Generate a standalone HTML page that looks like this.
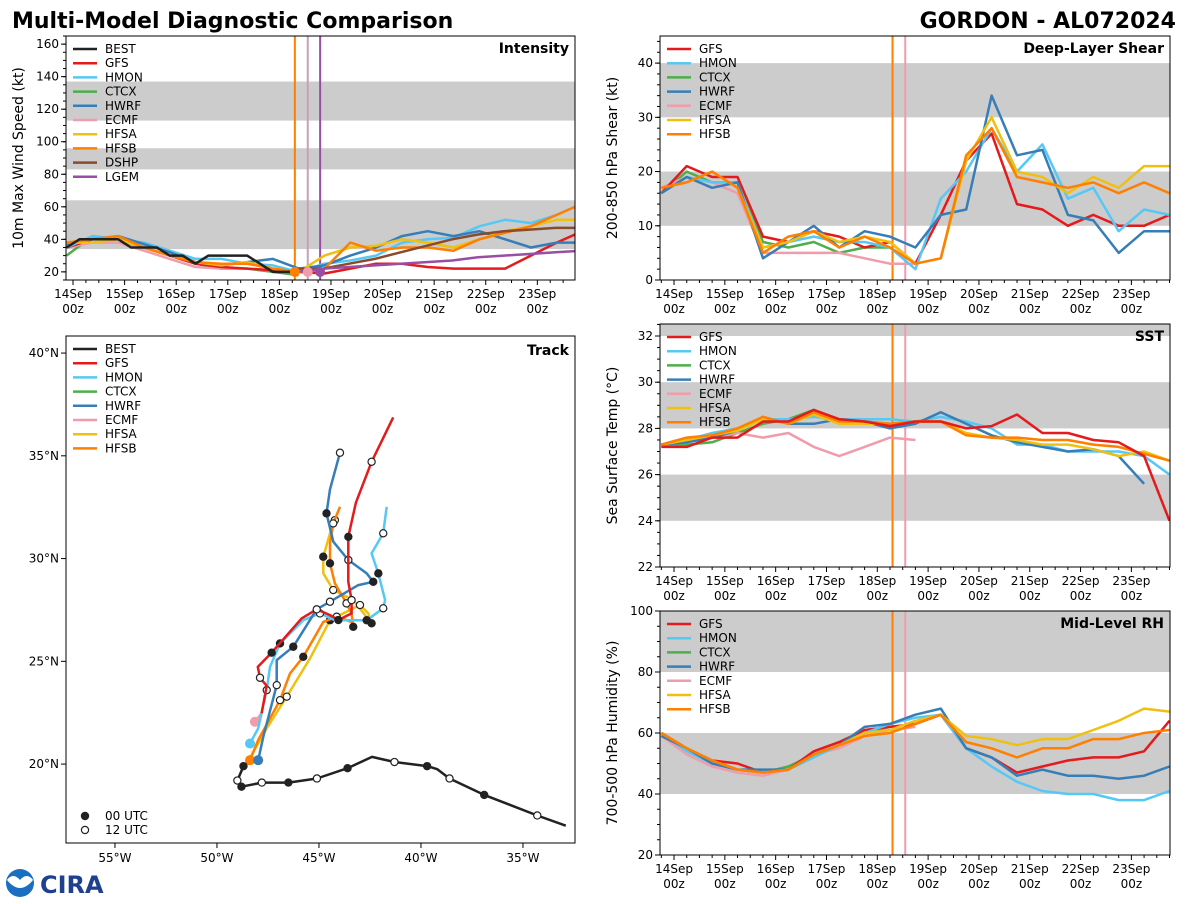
<!DOCTYPE html>
<html><head><meta charset="utf-8"><style>
body{margin:0;background:#fff;width:1200px;height:900px;overflow:hidden;font-family:"DejaVu Sans",sans-serif}
svg text{font-family:"DejaVu Sans","Liberation Sans",sans-serif}
</style></head><body>
<svg id="c" width="1200" height="900" xmlns="http://www.w3.org/2000/svg">
<text x="12" y="28" font-size="22" font-weight="bold">Multi-Model Diagnostic Comparison</text>
<text x="1176" y="28" font-size="22" font-weight="bold" text-anchor="end">GORDON - AL072024</text>
<g>
<circle cx="20" cy="883" r="14" fill="#1a6fc0"/><path d="M7,880 Q20,896 33,880 Q27,872 20,880 Q13,872 7,880Z" fill="#fff"/>
<text x="40" y="893" font-size="24" font-weight="bold" fill="#1f3f8f">CIRA</text>
</g>
</svg>
<script>
const days=['14Sep','15Sep','16Sep','17Sep','18Sep','19Sep','20Sep','21Sep','22Sep','23Sep'];
// Intensity (kt); BEST 6h steps from t=-0.125 d, models 12h steps
const intBEST=[35,40,40,40,40,35,35,35,30,30,25,30,30,30,30,25,20,20,20];
const intGFS=[35,40,40,35,30,25,23,22,21,20,19,22,25,25,23,22,22,22,30,38,45,50];
const intHMON=[35,42,40,38,33,28,28,25,24,20,25,27,30,38,40,41,48,52,50,55,62];
const intCTCX=[30,42,40,35,30,25,22,22,20,18];
const intHWRF=[37,40,42,37,32,26,24,26,28,22,24,30,35,42,45,42,45,40,35,38,38];
const intECMF=[35,38,38,33,28,23,22,22,21,20,20];
const intHFSA=[38,38,40,35,30,26,24,26,22,20,30,35,36,40,38,35,40,45,48,52,52];
const intHFSB=[38,40,42,35,30,26,25,25,22,20,22,38,33,35,35,33,40,44,48,55,62];
const intDSHP=[22,22,25,28,32,36,40,43,45,46,47,47,48];
const intLGEM=[20,22,23,24,25,26,27,29,30,31,32,33,34];
// Shear (kt), 12h from t=-0.25
const shrGFS=[16,21,19,19,8,7,9,8,6,7,3,12,22,27,14,13,10,12,10,10,12];
const shrHMON=[16,19,18,18,6,7,8,7,7,6,2,15,20,28,20,25,15,17,9,13,12];
const shrCTCX=[16,20,18,18,7,6,7,5,6,6];
const shrHWRF=[16,19,17,18,4,7,10,6,9,8,6,12,13,34,23,24,12,11,5,9,9];
const shrECMF=[17,19,18,16,5,5,5,5,4,3,3];
const shrHFSA=[17,18,20,17,6,7,9,7,8,7,3,4,22,30,20,19,16,19,17,21,21];
const shrHFSB=[17,18,20,17,5,8,9,6,8,6,3,4,23,28,19,18,17,18,16,18,16];
// SST (C)
const sstGFS=[27.2,27.2,27.6,27.6,28.3,28.3,28.8,28.4,28.3,28.1,28.3,28.3,28.0,28.1,28.6,27.8,27.8,27.5,27.4,26.8,24.0];
const sstHMON=[27.3,27.5,27.8,28.0,28.4,28.4,28.5,28.4,28.4,28.4,28.3,28.5,28.3,28.0,27.3,27.3,27.0,27.0,27.0,26.8,26.0];
const sstCTCX=[27.3,27.3,27.4,27.8,28.2,28.4,28.8,28.3,28.3,28.2];
const sstHWRF=[27.3,27.4,27.6,27.9,28.5,28.2,28.2,28.4,28.3,28.0,28.2,28.7,28.2,27.7,27.4,27.2,27.0,27.1,26.8,25.6];
const sstECMF=[27.3,27.4,27.6,27.8,27.6,27.8,27.2,26.8,27.2,27.6,27.5];
const sstHFSA=[27.3,27.5,27.7,27.9,28.4,28.2,28.6,28.2,28.2,28.2,28.3,28.3,27.8,27.6,27.5,27.3,27.3,27.1,26.8,27.0,26.6];
const sstHFSB=[27.3,27.6,27.7,28.0,28.5,28.2,28.7,28.3,28.3,28.2,28.3,28.3,27.7,27.6,27.6,27.5,27.5,27.3,27.2,26.9,26.6];
// RH (%)
const rhGFS=[60,55,51,50,47,48,54,57,61,62,63,66,55,52,47,49,51,52,52,54,64];
const rhHMON=[60,54,50,48,47,48,52,56,60,63,65,66,55,49,44,41,40,40,38,38,41];
const rhCTCX=[60,55,51,48,47,49,53,56,60,62];
const rhHWRF=[59,55,50,48,48,48,53,56,62,63,66,68,55,52,46,48,46,46,45,46,49];
const rhECMF=[59,53,49,47,46,48,53,55,59,61,62];
const rhHFSA=[60,55,51,48,47,48,53,56,60,61,64,66,59,58,56,58,58,61,64,68,67];
const rhHFSB=[60,55,51,48,47,48,53,56,59,60,63,66,57,55,52,55,55,58,58,60,61];
// Track lon/lat
const trkBESTlon=[-48.7,-49.0,-48.8,-47.8,-46.5,-45.1,-43.6,-42.4,-41.3,-39.7,-39.2,-38.6,-36.9,-34.3,-32.9];
const trkBESTlat=[19.9,19.2,18.9,19.1,19.1,19.3,19.8,20.35,20.1,19.9,19.75,19.3,18.5,17.5,17.0];
const trkBESTmk=['c','o','c','o','c','o','c','','o','c','','o','c','o',''];
const trkGFSlon=[-47.81,-47.56,-47.89,-48.0,-47.32,-45.85,-45.11,-44.46,-44.05,-43.4,-43.4,-43.56,-43.56,-43.19,-42.42,-41.36];
const trkGFSlat=[22.47,23.81,24.2,24.73,25.42,27.09,27.53,27.25,27.01,27.33,27.98,28.87,31.06,32.72,34.71,36.87];
const trkHMONlon=[-48.38,-47.98,-47.56,-47.4,-46.91,-45.77,-44.95,-44.22,-42.66,-42.42,-41.85,-41.76,-42.09,-42.42,-41.85,-41.68];
const trkHMONlat=[21.0,21.74,23.6,24.73,25.87,27.0,27.33,27.0,27.0,27.17,27.58,27.98,29.28,30.25,31.23,32.52];
const trkHWRFlon=[-47.98,-47.73,-47.07,-47.07,-46.26,-45.11,-44.46,-43.07,-42.34,-42.66,-43.56,-44.3,-44.63,-44.46,-43.97];
const trkHWRFlat=[20.19,21.33,23.84,25.06,25.71,27.53,27.9,28.71,28.87,29.28,29.93,30.82,32.2,33.37,35.15];
const trkECMFlon=[-48.14,-47.81];
const trkECMFlat=[22.06,22.47];
const trkHFSAlon=[-48.54,-47.56,-46.58,-45.44,-44.46,-43.81,-42.99,-42.58,-42.42,-43.32,-44.3,-44.79,-44.79,-44.46,-44.22];
const trkHFSAlat=[20.03,21.74,23.28,25.14,27.0,27.33,27.74,27.33,26.85,27.98,28.47,29.28,30.09,31.23,31.87];
const trkHFSBlon=[-48.38,-47.98,-46.91,-46.42,-45.77,-44.79,-44.13,-43.4,-43.32,-43.4,-43.65,-44.22,-44.46,-44.46,-44.3,-43.97];
const trkHFSBlat=[20.19,21.17,23.11,24.41,25.22,26.92,27.17,26.92,26.68,27.33,27.82,28.79,29.77,30.74,31.71,32.52];
const initTimes=[4.3,4.55,4.79];

const C={BEST:'#222',GFS:'#e41a1c',HMON:'#56c8f5',CTCX:'#4daf4a',HWRF:'#377eb8',ECMF:'#f19cab',HFSA:'#f0c010',HFSB:'#ff7f00',DSHP:'#8b4a2b',LGEM:'#984ea3'};
const svg=document.getElementById('c');
const NS='http://www.w3.org/2000/svg';
function mk(tag,at,p){const e=document.createElementNS(NS,tag);for(const k in at)e.setAttribute(k,at[k]);(p||svg).appendChild(e);return e;}
let clipN=0;
function panel(cfg){
  const g=mk('g',{});
  
  
  const sx=t=>cfg.x0+(t-cfg.tmin)/(cfg.tmax-cfg.tmin)*(cfg.x1-cfg.x0);
  const sy=v=>cfg.y1-(v-cfg.ymin)/(cfg.ymax-cfg.ymin)*(cfg.y1-cfg.y0);
  const id='cl'+(clipN++);
  const cp=mk('clipPath',{id:id},g);mk('rect',{x:cfg.x0,y:cfg.y0,width:cfg.x1-cfg.x0,height:cfg.y1-cfg.y0},cp);
  cfg.bands.forEach(b=>{const top=sy(Math.min(b[1],cfg.ymax));const r=mk('rect',{x:cfg.x0,y:top,width:cfg.x1-cfg.x0,height:sy(b[0])-top,fill:'#cccccc'},g);
    
    });
  for(let d=0;d<days.length;d++){const x=sx(d);if(x<cfg.x0||x>cfg.x1)continue;
    mk('line',{x1:x,x2:x,y1:cfg.y1,y2:cfg.y1+5,stroke:'#000'},g);
    const t=mk('text',{x:x,y:cfg.y1+18,'font-size':12,'text-anchor':'middle'},g);t.textContent=days[d];
    
    
    const t2=mk('text',{x:x,y:cfg.y1+33,'font-size':12,'text-anchor':'middle'},g);t2.textContent='00z';
    
    }
  for(let q=Math.ceil(cfg.tmin*4);q<=cfg.tmax*4;q++){if(q%4===0)continue;const x=sx(q/4);mk('line',{x1:x,x2:x,y1:cfg.y1,y2:cfg.y1+3,stroke:'#000'},g);}
  for(let v=cfg.ytick0;v<=cfg.ymax;v+=cfg.ystep){const y=sy(v);mk('line',{x1:cfg.x0-5,x2:cfg.x0,y1:y,y2:y,stroke:'#000'},g);
    const t=mk('text',{x:cfg.x0-7,y:y+4,'font-size':12,'text-anchor':'end'},g);t.textContent=v;
    
    }
  for(let v=cfg.ytick0-cfg.ystep;v<=cfg.ymax;v+=cfg.ystep/cfg.minor){if(v<cfg.ymin)continue;const y=sy(v);mk('line',{x1:cfg.x0-3,x2:cfg.x0,y1:y,y2:y,stroke:'#000'},g);}
  const yt=mk('text',{x:0,y:0,'font-size':14,'text-anchor':'middle',transform:`translate(${cfg.x0-43},${(cfg.y0+cfg.y1)/2}) rotate(-90)`},g);yt.textContent=cfg.ytitle;
  
  
  const lg=mk('g',{'clip-path':`url(#${id})`},g);
  cfg.vlines.forEach((vl)=>{const x=sx(initTimes[vl[0]]);const l=mk('line',{x1:x,x2:x,y1:cfg.y0,y2:cfg.y1,stroke:vl[1],'stroke-width':2},lg);
    
    });
  cfg.series.forEach(s=>{const st=s.s||0.5;const pts=s.v.map((v,i)=>sx(s.t0+i*st).toFixed(1)+','+sy(v).toFixed(1)).join(' ');
    const pl=mk('polyline',{points:pts,fill:'none',stroke:C[s.n],'stroke-width':2.5,'stroke-linejoin':'round'},lg);
    
    });
  cfg.dots.forEach(dd=>{const c=mk('circle',{cx:sx(initTimes[dd[0]]),cy:cfg.y1-8,r:5,fill:dd[1]},lg);
    
    });
  const fr=mk('rect',{x:cfg.x0,y:cfg.y0,width:cfg.x1-cfg.x0,height:cfg.y1-cfg.y0,fill:'none',stroke:'#000','stroke-width':1},g);
  
  
  const lb=mk('text',{x:cfg.x1-6,y:cfg.y0+17,'font-size':14,'font-weight':'bold','text-anchor':'end'},g);lb.textContent=cfg.label;
  
  
  legend(g,cfg.x0+7,cfg.y0+13,cfg.legend);
}
function legend(g,x,y,names){const lg=mk('g',{},g);
  
  
  names.forEach((n,i)=>{const yy=y+i*14.2;mk('line',{x1:x,x2:x+24,y1:yy,y2:yy,stroke:C[n],'stroke-width':2.5},lg);
    const t=mk('text',{x:x+32,y:yy+4,'font-size':12},lg);t.textContent=n;
    
    });}

const M7=['GFS','HMON','CTCX','HWRF','ECMF','HFSA','HFSB'];
panel({name:'intensity',x0:66,x1:575,y0:36,y1:280,tmin:-0.136,tmax:9.73,ymin:15,ymax:165,ytick0:20,ystep:20,minor:4,
  ytitle:'10m Max Wind Speed (kt)',label:'Intensity',bands:[[34,64],[83,96],[113,137]],
  vlines:[[0,'#ff7f00'],[1,'#c8a0b8'],[2,'#984ea3']],dots:[[0,'#ff7f00'],[1,'#f19cab'],[2,'#984ea3']],
  legend:['BEST','GFS','HMON','CTCX','HWRF','ECMF','HFSA','HFSB','DSHP','LGEM'],
  series:[{n:'CTCX',t0:-0.125,v:intCTCX},{n:'ECMF',t0:-0.125,v:intECMF},{n:'GFS',t0:-0.125,v:intGFS},{n:'HMON',t0:-0.125,v:intHMON},{n:'HWRF',t0:-0.125,v:intHWRF},
   {n:'HFSA',t0:-0.125,v:intHFSA},{n:'HFSB',t0:-0.125,v:intHFSB},{n:'DSHP',t0:4.35,v:intDSHP},{n:'LGEM',t0:4.35,v:intLGEM},{n:'BEST',t0:-0.125,s:0.25,v:intBEST}]});
const right={x0:660,x1:1170,tmin:-0.276,tmax:9.76};
panel(Object.assign({name:'shear',y0:36,y1:280,ymin:0,ymax:45,ytick0:0,ystep:10,minor:5,ytitle:'200-850 hPa Shear (kt)',label:'Deep-Layer Shear',
  bands:[[10,20],[30,40]],vlines:[[0,'#ff7f00'],[1,'#f19cab']],dots:[],legend:M7,
  series:[{n:'CTCX',t0:-0.25,v:shrCTCX},{n:'ECMF',t0:-0.25,v:shrECMF},{n:'GFS',t0:-0.25,v:shrGFS},{n:'HMON',t0:-0.25,v:shrHMON},{n:'HWRF',t0:-0.25,v:shrHWRF},{n:'HFSA',t0:-0.25,v:shrHFSA},{n:'HFSB',t0:-0.25,v:shrHFSB}]},right));
panel(Object.assign({name:'sst',y0:324,y1:567,ymin:22,ymax:32.52,ytick0:22,ystep:2,minor:4,ytitle:'Sea Surface Temp (°C)',label:'SST',
  bands:[[24,26],[28,30],[32,34]],vlines:[[0,'#ff7f00'],[1,'#f19cab']],dots:[],legend:M7,
  series:[{n:'CTCX',t0:-0.25,v:sstCTCX},{n:'ECMF',t0:-0.25,v:sstECMF},{n:'HMON',t0:-0.25,v:sstHMON},{n:'HWRF',t0:-0.25,v:sstHWRF},{n:'HFSA',t0:-0.25,v:sstHFSA},{n:'HFSB',t0:-0.25,v:sstHFSB},{n:'GFS',t0:-0.25,v:sstGFS}]},right));
panel(Object.assign({name:'rh',y0:611,y1:855,ymin:20,ymax:100,ytick0:20,ystep:20,minor:4,ytitle:'700-500 hPa Humidity (%)',label:'Mid-Level RH',
  bands:[[40,60],[80,100]],vlines:[[0,'#ff7f00'],[1,'#f19cab']],dots:[],legend:M7,
  series:[{n:'CTCX',t0:-0.25,v:rhCTCX},{n:'ECMF',t0:-0.25,v:rhECMF},{n:'GFS',t0:-0.25,v:rhGFS},{n:'HMON',t0:-0.25,v:rhHMON},{n:'HWRF',t0:-0.25,v:rhHWRF},{n:'HFSA',t0:-0.25,v:rhHFSA},{n:'HFSB',t0:-0.25,v:rhHFSB}]},right));

(function(){
  const T={x0:66,x1:575,y0:336,y1:843,lon0:-57.4,lon1:-32.45,lat0:16.16,lat1:40.83};
  const sx=l=>T.x0+(l-T.lon0)/(T.lon1-T.lon0)*(T.x1-T.x0);
  const sy=l=>T.y1-(l-T.lat0)/(T.lat1-T.lat0)*(T.y1-T.y0);
  const g=mk('g',{});
  
  
  const cp=mk('clipPath',{id:'trk'},g);mk('rect',{x:T.x0,y:T.y0,width:T.x1-T.x0,height:T.y1-T.y0},cp);
  for(let lo=-55;lo<=-35;lo+=5){const x=sx(lo);mk('line',{x1:x,x2:x,y1:T.y1,y2:T.y1+5,stroke:'#000'},g);
    const t=mk('text',{x:x,y:T.y1+19,'font-size':12,'text-anchor':'middle'},g);t.textContent=(-lo)+'°W';
    
    }
  for(let la=20;la<=40;la+=5){const y=sy(la);mk('line',{x1:T.x0-5,x2:T.x0,y1:y,y2:y,stroke:'#000'},g);
    const t=mk('text',{x:T.x0-7,y:y+4,'font-size':12,'text-anchor':'end'},g);t.textContent=la+'°N';
    
    }
  const lg=mk('g',{'clip-path':'url(#trk)'},g);
  function trk(n,lon,lat,mks,start){
    const pts=lon.map((l,i)=>sx(l).toFixed(1)+','+sy(lat[i]).toFixed(1)).join(' ');
    const pl=mk('polyline',{points:pts,fill:'none',stroke:C[n],'stroke-width':2.5,'stroke-linejoin':'round'},lg);
    
    
    if(start){const c=mk('circle',{cx:sx(lon[0]),cy:sy(lat[0]),r:5,fill:C[n]},lg);
      
      }
    lon.forEach((l,i)=>{const m=mks?mks[i]:(i<2||i%2?'':((i/2)%2?'o':'c'));if(!m)return;
      const c=mk('circle',{cx:sx(l),cy:sy(lat[i]),r:3.6,fill:m==='c'?'#222':'#fff',stroke:'#222','stroke-width':1.2},lg);
      
      });
  }
  trk('ECMF',trkECMFlon,trkECMFlat,['',''],true);
  trk('HFSA',trkHFSAlon,trkHFSAlat,null,false);
  trk('HFSB',trkHFSBlon,trkHFSBlat,null,true);
  trk('HMON',trkHMONlon,trkHMONlat,null,true);
  trk('HWRF',trkHWRFlon,trkHWRFlat,null,true);
  trk('GFS',trkGFSlon,trkGFSlat,null,false);
  trk('BEST',trkBESTlon,trkBESTlat,trkBESTmk,false);
  const fr=mk('rect',{x:T.x0,y:T.y0,width:T.x1-T.x0,height:T.y1-T.y0,fill:'none',stroke:'#000'},g);
  
  
  const lb=mk('text',{x:T.x1-6,y:T.y0+19,'font-size':14,'font-weight':'bold','text-anchor':'end'},g);lb.textContent='Track';
  
  
  legend(g,T.x0+7,T.y0+13,['BEST','GFS','HMON','CTCX','HWRF','ECMF','HFSA','HFSB']);
  [['c','00 UTC',816],['o','12 UTC',830]].forEach(a=>{mk('circle',{cx:85,cy:a[2],r:3.6,fill:a[0]==='c'?'#222':'#fff',stroke:'#222','stroke-width':1.2},g);
    const t=mk('text',{x:105,y:a[2]+4,'font-size':12},g);t.textContent=a[1];
    
    });
})();
</script>
</body></html>
